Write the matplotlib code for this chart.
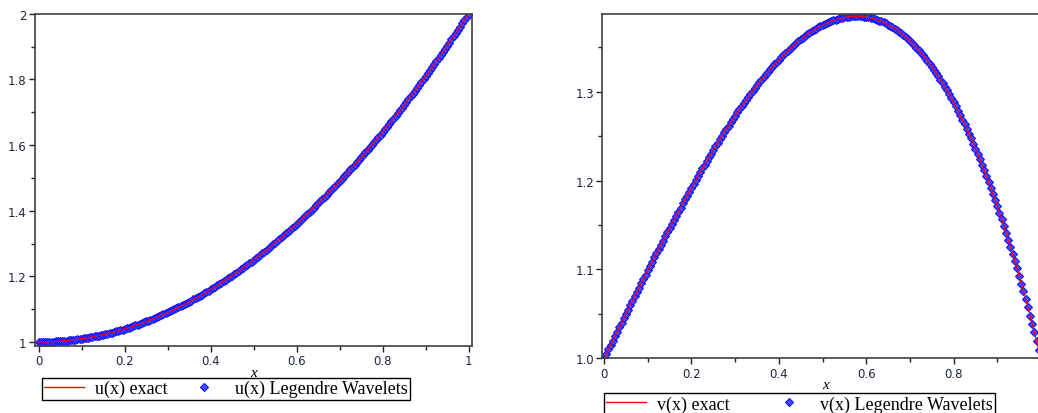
import numpy as np
import matplotlib
matplotlib.use("Agg")
import matplotlib.pyplot as plt
from matplotlib.ticker import MultipleLocator, FixedLocator

# sample points (step 0.005)
x = np.linspace(0, 1, 201)

# u(x)
u_vals = [
    1.0000, 1.0000, 1.0001, 1.0002, 1.0004, 1.0006, 1.0009, 1.0012, 1.0016, 1.0020,
    1.0025, 1.0030, 1.0036, 1.0042, 1.0049, 1.0056, 1.0064, 1.0072, 1.0081, 1.0090,
    1.0100, 1.0110, 1.0121, 1.0132, 1.0144, 1.0156, 1.0169, 1.0182, 1.0196, 1.0210,
    1.0225, 1.0240, 1.0256, 1.0272, 1.0289, 1.0306, 1.0324, 1.0342, 1.0361, 1.0380,
    1.0400, 1.0420, 1.0441, 1.0462, 1.0484, 1.0506, 1.0529, 1.0552, 1.0576, 1.0600,
    1.0625, 1.0650, 1.0676, 1.0702, 1.0729, 1.0756, 1.0784, 1.0812, 1.0841, 1.0870,
    1.0900, 1.0930, 1.0961, 1.0992, 1.1024, 1.1056, 1.1089, 1.1122, 1.1156, 1.1190,
    1.1225, 1.1260, 1.1296, 1.1332, 1.1369, 1.1406, 1.1444, 1.1482, 1.1521, 1.1560,
    1.1600, 1.1640, 1.1681, 1.1722, 1.1764, 1.1806, 1.1849, 1.1892, 1.1936, 1.1980,
    1.2025, 1.2070, 1.2116, 1.2162, 1.2209, 1.2256, 1.2304, 1.2352, 1.2401, 1.2450,
    1.2500, 1.2550, 1.2601, 1.2652, 1.2704, 1.2756, 1.2809, 1.2862, 1.2916, 1.2970,
    1.3025, 1.3080, 1.3136, 1.3192, 1.3249, 1.3306, 1.3364, 1.3422, 1.3481, 1.3540,
    1.3600, 1.3660, 1.3721, 1.3782, 1.3844, 1.3906, 1.3969, 1.4032, 1.4096, 1.4160,
    1.4225, 1.4290, 1.4356, 1.4422, 1.4489, 1.4556, 1.4624, 1.4692, 1.4761, 1.4830,
    1.4900, 1.4970, 1.5041, 1.5112, 1.5184, 1.5256, 1.5329, 1.5402, 1.5476, 1.5550,
    1.5625, 1.5700, 1.5776, 1.5852, 1.5929, 1.6006, 1.6084, 1.6162, 1.6241, 1.6320,
    1.6400, 1.6480, 1.6561, 1.6642, 1.6724, 1.6806, 1.6889, 1.6972, 1.7056, 1.7140,
    1.7225, 1.7310, 1.7396, 1.7482, 1.7569, 1.7656, 1.7744, 1.7832, 1.7921, 1.8010,
    1.8100, 1.8190, 1.8281, 1.8372, 1.8464, 1.8556, 1.8649, 1.8742, 1.8836, 1.8930,
    1.9025, 1.9120, 1.9216, 1.9312, 1.9409, 1.9506, 1.9604, 1.9702, 1.9801, 1.9900,
    2.0000,
]

# v(x)
v_vals = [
    1.0000, 1.0050, 1.0100, 1.0150, 1.0200, 1.0250, 1.0300, 1.0350, 1.0399, 1.0449,
    1.0499, 1.0548, 1.0598, 1.0647, 1.0697, 1.0746, 1.0795, 1.0844, 1.0893, 1.0941,
    1.0990, 1.1038, 1.1087, 1.1135, 1.1183, 1.1230, 1.1278, 1.1325, 1.1373, 1.1420,
    1.1466, 1.1513, 1.1559, 1.1605, 1.1651, 1.1696, 1.1742, 1.1787, 1.1831, 1.1876,
    1.1920, 1.1964, 1.2007, 1.2051, 1.2094, 1.2136, 1.2178, 1.2220, 1.2262, 1.2303,
    1.2344, 1.2384, 1.2424, 1.2464, 1.2503, 1.2542, 1.2580, 1.2619, 1.2656, 1.2693,
    1.2730, 1.2766, 1.2802, 1.2837, 1.2872, 1.2907, 1.2941, 1.2974, 1.3007, 1.3039,
    1.3071, 1.3103, 1.3133, 1.3164, 1.3193, 1.3223, 1.3251, 1.3279, 1.3307, 1.3334,
    1.3360, 1.3386, 1.3411, 1.3435, 1.3459, 1.3482, 1.3505, 1.3527, 1.3548, 1.3569,
    1.3589, 1.3608, 1.3627, 1.3645, 1.3662, 1.3678, 1.3694, 1.3709, 1.3724, 1.3737,
    1.3750, 1.3762, 1.3773, 1.3784, 1.3794, 1.3803, 1.3811, 1.3819, 1.3825, 1.3831,
    1.3836, 1.3840, 1.3844, 1.3846, 1.3848, 1.3849, 1.3849, 1.3848, 1.3846, 1.3844,
    1.3840, 1.3836, 1.3830, 1.3824, 1.3817, 1.3809, 1.3800, 1.3790, 1.3779, 1.3767,
    1.3754, 1.3740, 1.3725, 1.3709, 1.3692, 1.3675, 1.3656, 1.3636, 1.3615, 1.3593,
    1.3570, 1.3546, 1.3521, 1.3495, 1.3468, 1.3439, 1.3410, 1.3379, 1.3348, 1.3315,
    1.3281, 1.3246, 1.3210, 1.3173, 1.3135, 1.3095, 1.3054, 1.3013, 1.2970, 1.2925,
    1.2880, 1.2833, 1.2786, 1.2737, 1.2686, 1.2635, 1.2582, 1.2528, 1.2473, 1.2416,
    1.2359, 1.2300, 1.2239, 1.2178, 1.2115, 1.2051, 1.1985, 1.1918, 1.1850, 1.1781,
    1.1710, 1.1638, 1.1564, 1.1489, 1.1413, 1.1335, 1.1256, 1.1176, 1.1094, 1.1011,
    1.0926, 1.0840, 1.0753, 1.0664, 1.0573, 1.0481, 1.0388, 1.0293, 1.0197, 1.0099,
    1.0000,
]

x_major = [0, 0.2, 0.4, 0.6, 0.8, 1]
x_labels_u = ["0", "0.2", "0.4", "0.6", "0.8", "1"]
x_labels_v = ["0", "0.2", "0.4", "0.6", "0.8", ""]   # "1" falls off the picture
u_major = [1, 1.2, 1.4, 1.6, 1.8, 2]
u_labels = ["1", "1.2", "1.4", "1.6", "1.8", "2"]
v_major = [1.0, 1.1, 1.2, 1.3]
v_labels = ["1.0", "1.1", "1.2", "1.3"]

tick_col = "#1c2540"
spine_col = "#404040"
serif = "Liberation Serif"
mk = dict(ls="none", marker="D", ms=4, mfc="#4a4aff", mec="#1414ff", mew=0.8)

fig = plt.figure(figsize=(10.38, 4.14), dpi=100)
ax1 = fig.add_axes([35/1038, (414-346.7)/414, 436.7/1038, 332/414])
ax2 = fig.add_axes([602.3/1038, (414-359.3)/414, 447.4/1038, 344.6/414])


def style(ax, xlab, ymaj, ylab, ymin_step, name, leg_x, leg_y, colsp):
    ax.xaxis.set_major_locator(FixedLocator(x_major))
    ax.set_xticklabels(xlab)
    ax.xaxis.set_minor_locator(MultipleLocator(0.1))
    ax.yaxis.set_major_locator(FixedLocator(ymaj))
    ax.set_yticklabels(ylab)
    ax.yaxis.set_minor_locator(MultipleLocator(ymin_step))
    ax.tick_params(which="major", direction="out", length=4, width=1,
                   color="#222222", labelsize=8.5, labelcolor=tick_col, pad=2)
    ax.tick_params(which="minor", direction="out", length=3, width=1,
                   color="#222222")
    for s in ax.spines.values():
        s.set_color(spine_col)
        s.set_linewidth(1.2)
    ax.set_xlabel("x", fontstyle="italic", family=serif, fontsize=11, labelpad=-1)
    h1, = ax.plot([], [], color="red", lw=1)
    h2, = ax.plot([], [], **mk)
    leg = ax.legend([h1, h2], [name + "(x) exact", name + "(x) Legendre Wavelets"],
                    loc="upper left", bbox_to_anchor=(leg_x, leg_y), ncol=2,
                    borderaxespad=0, frameon=True, fancybox=False, framealpha=1,
                    edgecolor="black", borderpad=0.12, handlelength=2.2,
                    handletextpad=0.6, columnspacing=colsp,
                    prop={"family": serif, "size": 13})
    leg.get_frame().set_linewidth(1.0)


# left panel
ax1.plot(x, u_vals, **mk)
ax1.plot(x, u_vals, color="red", lw=0.8)
ax1.set_xlim(-0.0086, 1.007)
ax1.set_ylim(0.9887, 2.0)
style(ax1, x_labels_u, u_major, u_labels, 0.1, "u", 0.016, -0.097, 0.95)

# right panel
ax2.plot(x, v_vals, **mk)
ax2.plot(x, v_vals, color="red", lw=0.8)
ax2.set_xlim(-0.004, 1.02)
ax2.set_ylim(1.0, 1.3877)
style(ax2, x_labels_v, v_major, v_labels, 0.05, "v", 0.004, -0.101, 2.2)

fig.savefig("out.png", dpi=100)
